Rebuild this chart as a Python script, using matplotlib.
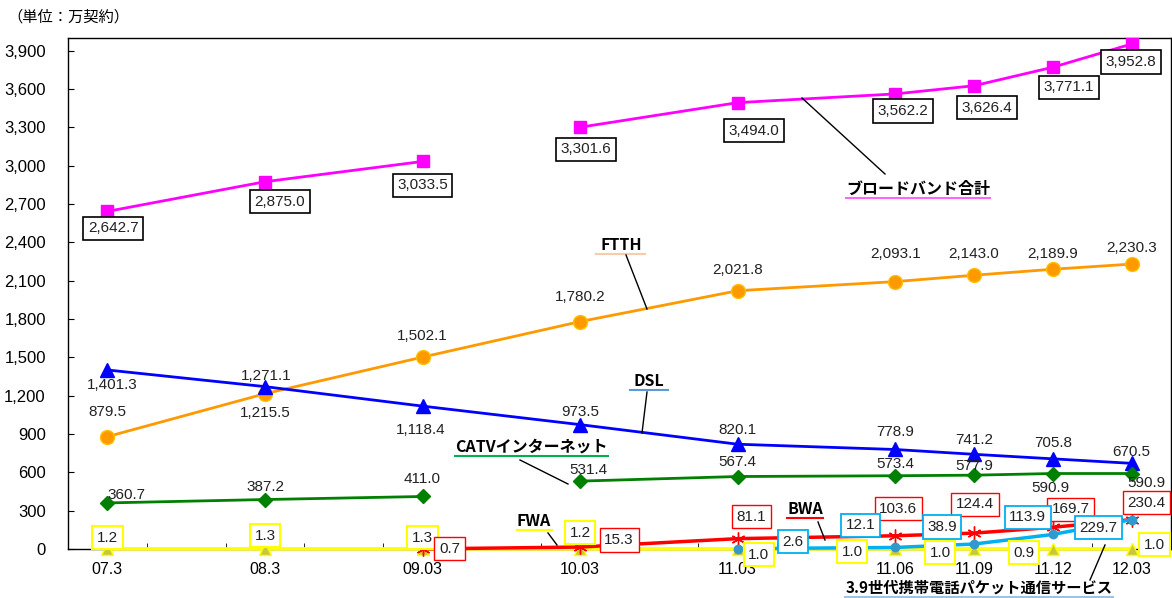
import numpy as np
import matplotlib
matplotlib.use("Agg")
import matplotlib.pyplot as plt
from matplotlib.lines import Line2D

plt.rcParams['font.family'] = ['Liberation Sans', 'Noto Sans CJK JP', 'DejaVu Sans']

# ---- data ----
periods = ["07.3", "08.3", "09.03", "10.03", "11.03", "11.06", "11.09", "11.12", "12.03"]
slots = [0, 2, 4, 6, 8, 10, 11, 12, 13]   # category slots on the axis (14 in all)

total = [2642.7, 2875.0, 3033.5, 3301.6, 3494.0, 3562.2, 3626.4, 3771.1, 3952.8]
ftth = [879.5, 1215.5, 1502.1, 1780.2, 2021.8, 2093.1, 2143.0, 2189.9, 2230.3]
dsl = [1401.3, 1271.1, 1118.4, 973.5, 820.1, 778.9, 741.2, 705.8, 670.5]
catv = [360.7, 387.2, 411.0, 531.4, 567.4, 573.4, 577.9, 590.9, 590.9]
fwa = [1.2, 1.3, 1.3, 1.2, 1.0, 1.0, 1.0, 0.9, 1.0]
bwa = [None, None, 0.7, 15.3, 81.1, 103.6, 124.4, 169.7, 230.4]
lte = [None, None, None, None, 2.6, 12.1, 38.9, 113.9, 229.7]

# ---- label offsets (pixels) ----
off_total = [(6, -17), (15, -20), (0, -24), (6, -22), (16, -28), (8, -17), (13, -22), (16, -20), (-1, -18)]
off_ftth = [(0, 25), (0, -19), (0, 21), (0, 25), (0, 21), (0, 28), (0, 21), (0, 15), (0, 16)]
off_dsl = [(5, -15), (1, 11), (-2, -24), (0, 13), (0, 14), (0, 17), (0, 14), (0, 16), (0, 11)]
off_catv = [(19, 8), (0, 13), (0, 17), (8, 11), (0, 15), (0, 12), (0, 9), (-2, -14), (15, -9)]
off_fwa = [(0, 11), (0, 13), (0, 11), (0, 16), (21, -6), (-43, -3), (-34, -4), (-29, -4), (23, 4)]
off_bwa = [None, None, (27, 0), (39, 7), (14, 22), (3, 27), (1, 29), (18, 18), (15, 17)]
off_lte = [None, None, None, None, (55, 7), (-35, 22), (-32, 17), (-25, 17), (-33, -8)]

W, H = 1172, 598
fig = plt.figure(figsize=(W / 100, H / 100), dpi=100)
ax = fig.add_axes([68 / W, 1 - 549 / H, (1171 - 68) / W, (549 - 38) / H])
ax.set_xlim(-0.5, 13.5)
ax.set_ylim(0, 4000)


def fpx(x, y):
    return x / W, 1 - y / H


def plot_series(vals, color, lw, marker, ms, mfc, mec, z, breaks=(), mew=1):
    xs = [s for s, v in zip(slots, vals) if v is not None]
    ys = [v for v in vals if v is not None]
    # split into segments where the chart line is broken
    segs = []
    start = 0
    for b in breaks:
        segs.append((xs[start:b], ys[start:b]))
        start = b
    segs.append((xs[start:], ys[start:]))
    for sx, sy in segs:
        ax.plot(sx, sy, color=color, lw=lw, marker=marker, ms=ms, mfc=mfc,
                mec=mec, mew=mew, zorder=z, clip_on=False)


def labels(vals, offs, box=None, lw=1.2):
    for s, v, o in zip(slots, vals, offs):
        if v is None:
            continue
        kw = {}
        if box:
            kw['bbox'] = dict(boxstyle='square,pad=0.3', fc='white', ec=box, lw=lw)
        ax.annotate(f"{v:,.1f}", (s, v), xytext=o, textcoords='offset pixels',
                    ha='center', va='center', fontsize=11, color='#222222',
                    zorder=10, annotation_clip=False, **kw)


plot_series(total, '#FF00FF', 2.0, 's', 9, '#FF00FF', '#FF00FF', 5, breaks=[3])
plot_series(ftth, '#FF9900', 2.0, 'o', 10, '#FF9900', '#FFC000', 5)
plot_series(dsl, '#0000FF', 2.0, '^', 10, '#0000FF', '#0000FF', 5)
plot_series(catv, '#008000', 2.0, 'D', 7, '#008000', '#008000', 5, breaks=[3])
plot_series(fwa, '#FFFF00', 2.5, '^', 8, '#C8C83C', '#FFFF00', 4)
plot_series(bwa, '#FF0000', 2.5, (6, 2, 0), 10, '#FF0000', '#FF0000', 6)
plot_series(lte, '#00B0F0', 2.5, 'o', 6, '#3399CC', '#3399CC', 6)

labels(total, off_total, box='black')
labels(ftth, off_ftth)
labels(dsl, off_dsl)
labels(catv, off_catv)
labels(fwa, off_fwa, box='#FFFF00', lw=1.5)
labels(bwa, off_bwa, box='#FF0000', lw=1.0)
labels(lte, off_lte, box='#00B0F0', lw=1.3)

# axes styling
ax.set_yticks(np.arange(0, 4000, 300))
ax.set_yticklabels([f"{t:,}" for t in range(0, 4000, 300)], fontsize=12)
ax.set_xticks(slots)
ax.set_xticklabels(periods, fontsize=11.5)
ax.set_xticks(np.arange(0.5, 13, 1), minor=True)
ax.tick_params(axis='x', which='major', length=0, pad=9)
ax.tick_params(axis='x', which='minor', direction='in', length=4)
ax.tick_params(axis='y', direction='in', length=4, pad=16)
for s in ax.spines.values():
    s.set_color('black')
    s.set_linewidth(1.0)

fig.text(*fpx(7, 17), "（単位：万契約）", fontsize=11, va='center', ha='left',
         family=['Noto Sans CJK JP'])

# series callouts with underline and leader
callouts = [
    ("ブロードバンド合計", (918, 189), 846, 990, '#FF66FF', (885, 174), (802, 98)),
    ("FTTH", (621, 245), 596, 645, '#F8CBAD', (626, 255), (647, 309)),
    ("DSL", (649, 381), 630, 668, '#5B9BD5', (647, 392), (642, 433)),
    ("CATVインターネット", (531, 447), 455, 608, '#00B050', (520, 460), (568, 484)),
    ("FWA", (534, 521), 517, 552, '#FFFF00', (548, 533), (557, 545)),
    ("BWA", (805, 509), 787, 823, '#FF0000', (818, 522), (825, 540)),
    ("3.9世代携帯電話パケット通信サービス", (979, 588), 845, 1113, '#9DC3E6', (1090, 580), (1105, 545)),
]
for txt, (tx, ty), x0, x1, ucol, p0, p1 in callouts:
    fs = 11.5 if len(txt) < 12 else 11
    fig.text(*fpx(tx, ty), txt, fontsize=fs, fontweight='bold', ha='center',
             va='center', family=['Noto Sans CJK JP', 'DejaVu Sans'], zorder=12)
    fig.add_artist(Line2D([x0 / W, x1 / W], [1 - (ty + 9) / H] * 2, color=ucol, lw=1.5))
    fig.add_artist(Line2D([p0[0] / W, p1[0] / W], [1 - p0[1] / H, 1 - p1[1] / H],
                          color='black', lw=1.0))

fig.savefig("out.png", dpi=100)
